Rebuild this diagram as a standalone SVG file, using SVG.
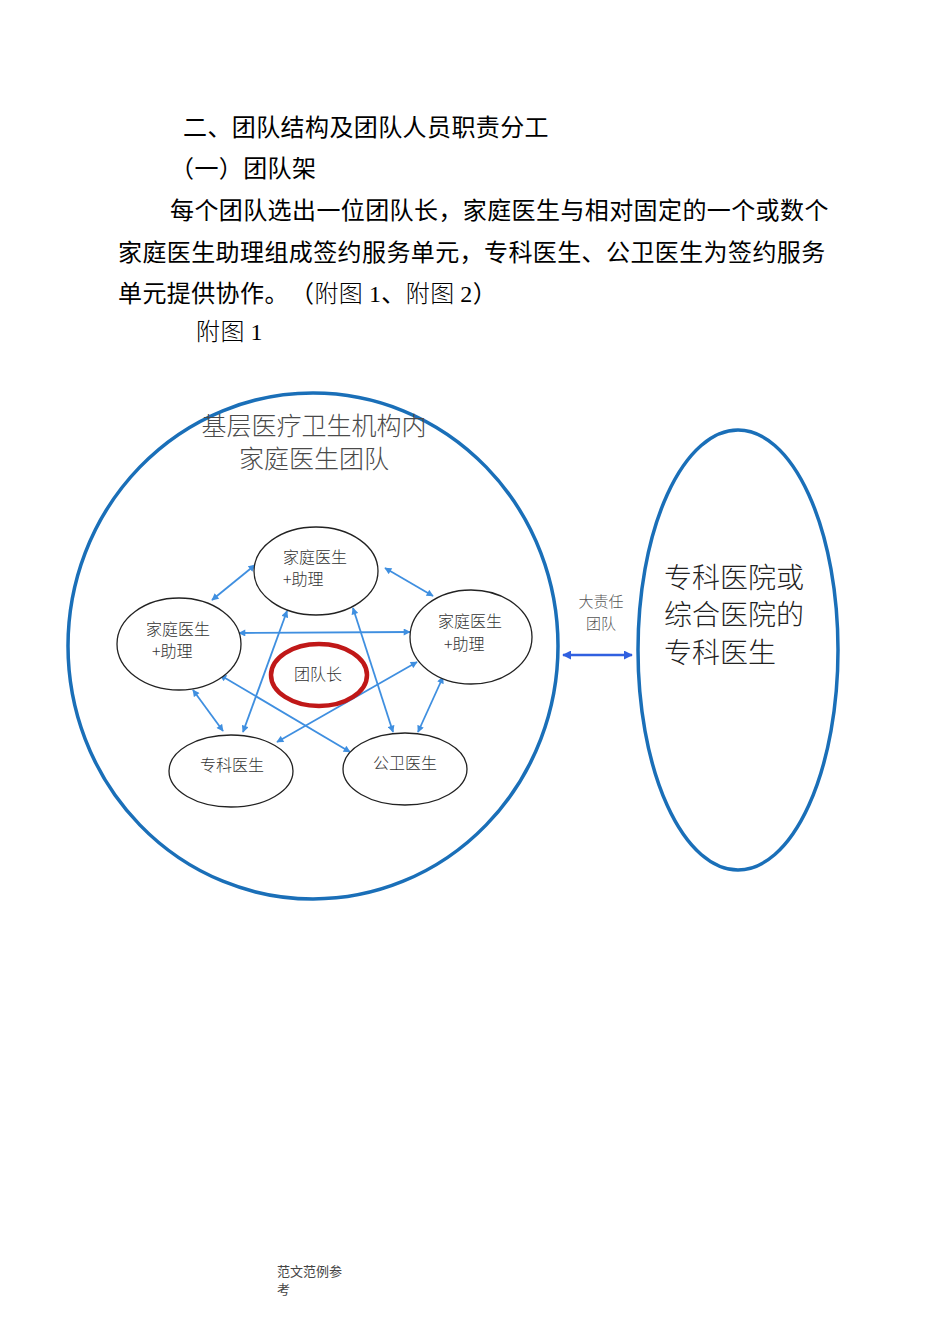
<svg xmlns="http://www.w3.org/2000/svg" width="950" height="1344" viewBox="0 0 950 1344">
<style>
text{text-spacing-trim:space-all}
.body{font-family:"Noto Sans CJK SC","Liberation Sans",sans-serif;font-size:24px;fill:#000;letter-spacing:0.4px}
.ser{font-family:"Liberation Serif","Noto Sans CJK SC",serif}
.lt{font-weight:300}
.node{fill:#fff;stroke:#222;stroke-width:1.3}
.nt{font-family:"Noto Sans CJK SC","Liberation Serif",serif;font-size:16px;fill:#333;font-weight:300}
.conn line{stroke:#3f8fe0;stroke-width:1.8;marker-start:url(#ah);marker-end:url(#ah)}
.big{fill:none;stroke:#1a6fb8;stroke-width:3.5}
</style>
<defs>
<marker id="ah" viewBox="0 0 10 10" refX="9" refY="5" markerWidth="8" markerHeight="7" orient="auto-start-reverse" markerUnits="userSpaceOnUse">
<path d="M0,0 L10,5 L0,10 z" fill="#3f8fe0"/>
</marker>
<marker id="ah2" viewBox="0 0 10 10" refX="9" refY="5" markerWidth="9" markerHeight="9" orient="auto-start-reverse" markerUnits="userSpaceOnUse">
<path d="M0,0 L10,5 L0,10 z" fill="#3060e0"/>
</marker>
</defs>
<rect width="950" height="1344" fill="#fff"/>
<g id="text-body">
<text class="body" x="183" y="136">二、团队结构及团队人员职责分工</text>
<text class="body" x="170" y="177">（一）团队架</text>
<text class="body" x="170" y="219">每个团队选出一位团队长，家庭医生与相对固定的一个或数个</text>
<text class="body" x="118" y="261">家庭医生助理组成签约服务单元，专科医生、公卫医生为签约服务</text>
<text class="body" x="118" y="302">单元提供协作。</text>
<text class="body" x="290" y="302">（<tspan class="lt">附图 </tspan><tspan class="ser">1</tspan>、<tspan class="lt">附图 </tspan><tspan class="ser">2</tspan>）</text>
<text class="body lt" x="196" y="340">附图 <tspan class="ser">1</tspan></text>
</g>
<g id="outer-circle">
<ellipse class="big" cx="313" cy="646" rx="245" ry="253"/>
<text x="314" y="435" text-anchor="middle" font-family="Noto Sans CJK SC, sans-serif" font-size="25" font-weight="300" fill="#4a4a4a">基层医疗卫生机构内</text>
<text x="314" y="468" text-anchor="middle" font-family="Noto Sans CJK SC, sans-serif" font-size="25" font-weight="300" fill="#4a4a4a">家庭医生团队</text>
</g>
<g id="specialist-hospital">
<ellipse class="big" cx="738" cy="650" rx="100" ry="220"/>
<g font-family="Noto Sans CJK SC, sans-serif" font-size="28" font-weight="300" fill="#222">
<text x="664" y="588">专科医院或</text>
<text x="664" y="625">综合医院的</text>
<text x="664" y="663">专科医生</text>
</g>
</g>
<g id="connectors">
<g class="conn">
<line x1="212" y1="600" x2="255" y2="565"/>
<line x1="385" y1="568" x2="433" y2="596"/>
<line x1="239" y1="633" x2="410" y2="632"/>
<line x1="287" y1="611" x2="243" y2="732"/>
<line x1="353" y1="608" x2="393" y2="732"/>
<line x1="220" y1="675" x2="350" y2="752"/>
<line x1="417" y1="662" x2="277" y2="742"/>
<line x1="193" y1="690" x2="223" y2="731"/>
<line x1="443" y1="677" x2="418" y2="732"/>
</g>
<line x1="563" y1="655" x2="632" y2="655" stroke="#3060e0" stroke-width="2.5" marker-start="url(#ah2)" marker-end="url(#ah2)"/>
<text x="601" y="607" text-anchor="middle" font-family="Noto Sans CJK SC, sans-serif" font-size="15" font-weight="300" fill="#555">大责任</text>
<text x="601" y="629" text-anchor="middle" font-family="Noto Sans CJK SC, sans-serif" font-size="15" font-weight="300" fill="#555">团队</text>
</g>
<g id="node-top">
<ellipse class="node" cx="316" cy="571" rx="62" ry="44"/>
<text class="nt" x="283" y="563">家庭医生</text>
<text class="nt" x="283" y="585">+助理</text>
</g>
<g id="node-left">
<ellipse class="node" cx="179" cy="644" rx="62" ry="46"/>
<text class="nt" x="178" y="635" text-anchor="middle">家庭医生</text>
<text class="nt" x="152" y="657">+助理</text>
</g>
<g id="node-right">
<ellipse class="node" cx="471" cy="637" rx="61" ry="47"/>
<text class="nt" x="470" y="627" text-anchor="middle">家庭医生</text>
<text class="nt" x="444" y="650">+助理</text>
</g>
<g id="node-specialist">
<ellipse class="node" cx="231" cy="771" rx="62" ry="36"/>
<text class="nt" x="232" y="771" text-anchor="middle">专科医生</text>
</g>
<g id="node-public-health">
<ellipse class="node" cx="405" cy="769" rx="62" ry="36"/>
<text class="nt" x="405" y="769" text-anchor="middle">公卫医生</text>
</g>
<g id="node-leader">
<ellipse cx="319" cy="675" rx="48" ry="31" fill="#fff" stroke="#c01818" stroke-width="4.5"/>
<text class="nt" x="318" y="680" text-anchor="middle" font-size="15">团队长</text>
</g>
<g id="footer" font-family="Noto Sans CJK SC, sans-serif" font-size="13" fill="#444">
<text x="277" y="1276">范文范例参</text>
<text x="277" y="1294">考</text>
</g>
</svg>
